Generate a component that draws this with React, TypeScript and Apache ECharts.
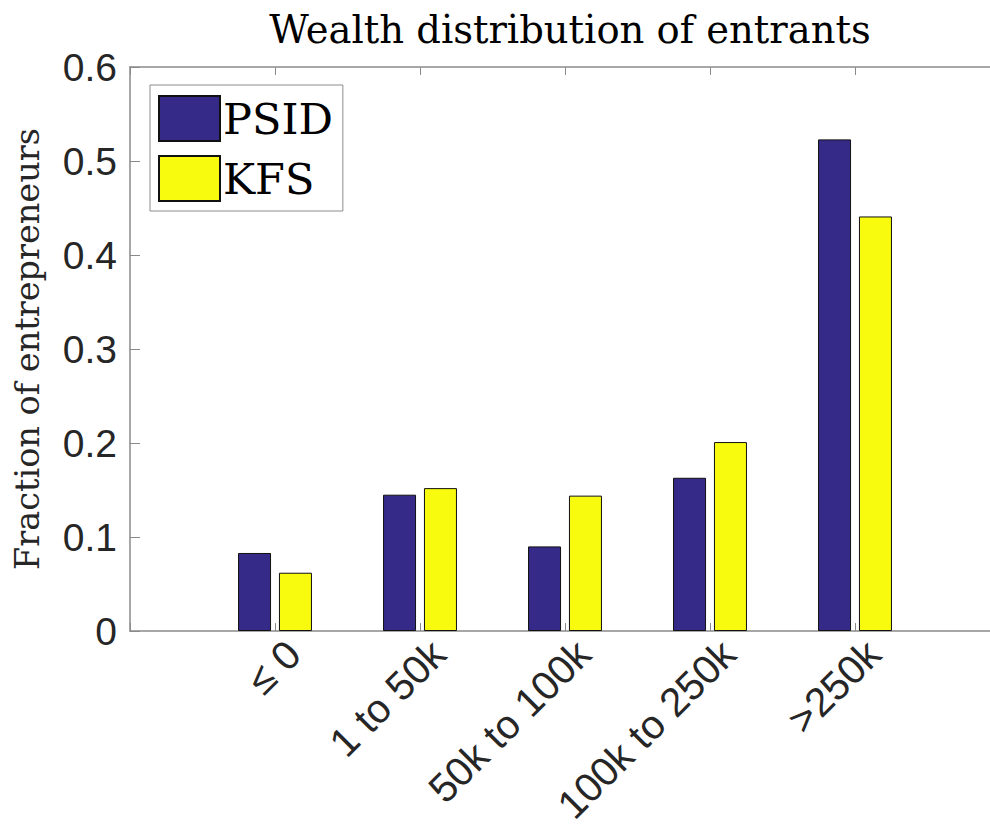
import React, { useEffect, useRef } from "react";
import * as echarts from "echarts";

const categories = ["≤ 0", "1 to 50k", "50k to 100k", "100k to 250k", ">250k"];
const psidValues = [0.083, 0.145, 0.09, 0.163, 0.523];
const kfsValues = [0.062, 0.152, 0.144, 0.201, 0.441];
const yTicks = [0, 0.1, 0.2, 0.3, 0.4, 0.5, 0.6];

const SANS = "Liberation Sans";
const SERIF = "DejaVu Serif";
const AXIS_GREY = "#8a8a8a";
const UNIT_PX = 145;
const GRID_LEFT = 130;
const LABEL_SHIFT = 4;
const X_MAX = (990 - GRID_LEFT) / UNIT_PX;
const X_MAX_LABELS = (990 - GRID_LEFT - LABEL_SHIFT) / UNIT_PX;

export default function App() {
  const ref = useRef<HTMLDivElement>(null);
  useEffect(() => {
    if (!ref.current) return;
    const chart = echarts.init(ref.current, undefined, { renderer: "svg" });
    const toPairs = (vals: number[]) => vals.map((v, i) => [i + 1, v]);
    const labelFormatter = (v: number) => {
      const i = Math.round(v) - 1;
      return Math.abs(v - Math.round(v)) < 1e-6 && i >= 0 && i < categories.length ? categories[i] : "";
    };
    chart.setOption({
      animation: false,
      backgroundColor: "#ffffff",
      title: {
        text: "Wealth distribution of entrants",
        left: 565,
        textAlign: "center",
        top: 5,
        textStyle: { fontFamily: SERIF, fontSize: 38.5, fontWeight: "normal", color: "#000" },
      },
      legend: {
        left: 150,
        top: 85,
        orient: "vertical",
        itemWidth: 61,
        itemHeight: 45,
        itemGap: 13,
        padding: [10, 10, 9, 8],
        borderColor: "#8c8c8c",
        borderWidth: 1,
        backgroundColor: "#fff",
        icon: "rect",
        textStyle: { fontFamily: SERIF, fontSize: 43, color: "#000", padding: [0, 0, 0, -2] },
        data: ["PSID", "KFS"],
      },
      grid: [
        { left: GRID_LEFT, top: 67, right: 0, height: 564, containLabel: false },
        { left: GRID_LEFT + LABEL_SHIFT, top: 67, right: 0, height: 564, containLabel: false },
      ],
      xAxis: [
        {
          type: "value",
          gridIndex: 0,
          min: 0,
          max: X_MAX,
          interval: 1,
          position: "bottom",
          splitLine: { show: false },
          axisLine: { show: true, lineStyle: { color: AXIS_GREY, width: 1.5 } },
          axisTick: { show: true, inside: true, length: 8, lineStyle: { color: AXIS_GREY } },
          axisLabel: { show: false },
        },
        {
          type: "value",
          gridIndex: 0,
          min: 0,
          max: X_MAX,
          interval: 1,
          position: "top",
          splitLine: { show: false },
          axisLine: { show: true, lineStyle: { color: AXIS_GREY, width: 1.5 } },
          axisTick: { show: true, inside: true, length: 8, lineStyle: { color: AXIS_GREY } },
          axisLabel: { show: false },
        },
        {
          type: "value",
          gridIndex: 1,
          min: 0,
          max: X_MAX_LABELS,
          interval: 1,
          position: "bottom",
          splitLine: { show: false },
          axisLine: { show: false },
          axisTick: { show: false },
          axisLabel: {
            rotate: 45,
            margin: 10,
            verticalAlign: "top",
            fontFamily: SANS,
            fontSize: 40.5,
            color: "#262626",
            showMinLabel: true,
            showMaxLabel: false,
            formatter: labelFormatter,
          },
        },
      ],
      yAxis: [
        {
          type: "value",
          gridIndex: 0,
          min: 0,
          max: 0.6,
          interval: 0.1,
          name: "Fraction of entrepreneurs",
          nameLocation: "middle",
          nameRotate: 90,
          nameGap: 86,
          nameTextStyle: { fontFamily: SERIF, fontSize: 33.5, color: "#262626" },
          splitLine: { show: false },
          axisLine: { show: true, lineStyle: { color: AXIS_GREY, width: 1.5 } },
          axisTick: { show: true, inside: true, length: 10, lineStyle: { color: AXIS_GREY } },
          axisLabel: {
            margin: 13,
            fontFamily: SANS,
            fontSize: 39,
            color: "#262626",
            formatter: (v: number) => {
              const t = yTicks.find((y) => Math.abs(y - v) < 1e-9);
              return t === 0 ? "0" : (t ?? v).toFixed(1);
            },
          },
        },
        {
          type: "value",
          gridIndex: 1,
          min: 0,
          max: 0.6,
          show: false,
        },
      ],
      series: [
        {
          name: "PSID",
          type: "bar",
          xAxisIndex: 0,
          yAxisIndex: 0,
          data: toPairs(psidValues),
          barWidth: 33,
          barGap: "24%",
          itemStyle: { color: "#352a87", borderColor: "#111", borderWidth: 1 },
        },
        {
          name: "KFS",
          type: "bar",
          xAxisIndex: 0,
          yAxisIndex: 0,
          data: toPairs(kfsValues),
          barWidth: 33,
          barGap: "24%",
          itemStyle: { color: "#f9fb0e", borderColor: "#111", borderWidth: 1 },
        },
      ],
    });
    return () => chart.dispose();
  }, []);
  return (
    <div
      ref={ref}
      style={{ position: "absolute", left: 0, top: 0, width: 990, height: 828 }}
    />
  );
}
